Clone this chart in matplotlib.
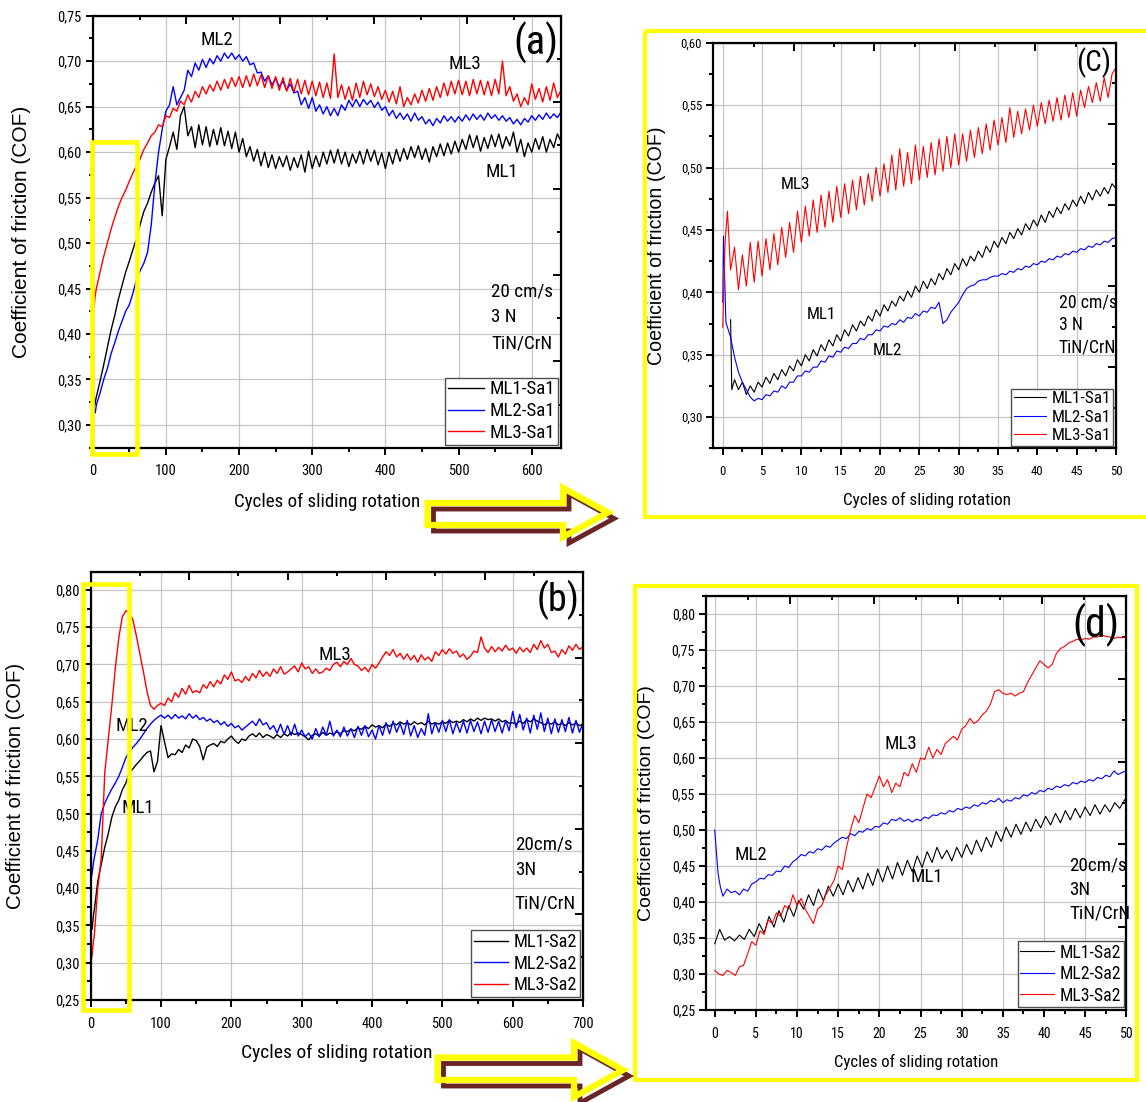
import os
import numpy as np
import matplotlib
matplotlib.use('Agg')
import matplotlib.pyplot as plt
from matplotlib.ticker import MultipleLocator, FuncFormatter, NullFormatter
from matplotlib import font_manager
from matplotlib.patches import Rectangle, Polygon

W, H = 1146, 1102

# ---------------- panel (a): Sa1, full run ----------------
a_x = np.r_[[0, 1, 2, 3, 4], np.arange(5, 641, 5)]
a_ml1 = [0.345, 0.33, 0.322, 0.322, 0.327,
         0.331, 0.348, 0.366, 0.385, 0.404, 0.42, 0.438, 0.453, 0.468, 0.48,
         0.493, 0.505, 0.521, 0.535, 0.544, 0.556, 0.566, 0.574, 0.53, 0.592,
         0.606, 0.622, 0.603, 0.64, 0.65, 0.618, 0.628, 0.605, 0.63, 0.608,
         0.628, 0.606, 0.625, 0.608, 0.627, 0.607, 0.623, 0.604, 0.622, 0.60,
         0.615, 0.595, 0.606, 0.59, 0.603, 0.585, 0.60, 0.583, 0.597, 0.582,
         0.595, 0.584, 0.596, 0.58, 0.594, 0.583, 0.597, 0.578, 0.601, 0.582,
         0.596, 0.584, 0.60, 0.587, 0.602, 0.588, 0.603, 0.587, 0.60, 0.584,
         0.598, 0.588, 0.601, 0.587, 0.603, 0.59, 0.602, 0.586, 0.599, 0.582,
         0.60, 0.587, 0.603, 0.59, 0.604, 0.592, 0.606, 0.594, 0.607, 0.592,
         0.604, 0.589, 0.606, 0.595, 0.609, 0.596, 0.61, 0.598, 0.612, 0.60,
         0.614, 0.603, 0.619, 0.605, 0.618, 0.601, 0.616, 0.604, 0.619, 0.606,
         0.62, 0.604, 0.617, 0.607, 0.622, 0.60, 0.614, 0.595, 0.61, 0.60,
         0.615, 0.603, 0.617, 0.60, 0.614, 0.605, 0.62, 0.612]
a_ml2 = [0.40, 0.34, 0.318, 0.313, 0.316,
         0.322, 0.335, 0.35, 0.362, 0.378, 0.39, 0.403, 0.414, 0.425, 0.432,
         0.445, 0.46, 0.47, 0.478, 0.49, 0.52, 0.565, 0.60, 0.625, 0.645,
         0.652, 0.672, 0.652, 0.66, 0.668, 0.69, 0.683, 0.698, 0.69, 0.702,
         0.693, 0.703, 0.697, 0.706, 0.70, 0.709, 0.703, 0.709, 0.702, 0.707,
         0.70, 0.705, 0.696, 0.698, 0.687, 0.688, 0.678, 0.684, 0.674, 0.681,
         0.672, 0.678, 0.668, 0.675, 0.665, 0.667, 0.652, 0.66, 0.648, 0.66,
         0.645, 0.652, 0.642, 0.65, 0.64, 0.648, 0.64, 0.652, 0.646, 0.657,
         0.65, 0.658, 0.65, 0.658, 0.652, 0.657, 0.649, 0.655, 0.646, 0.65,
         0.64, 0.646, 0.637, 0.643, 0.636, 0.642, 0.634, 0.643, 0.635, 0.639,
         0.631, 0.636, 0.629, 0.637, 0.632, 0.64, 0.634, 0.639, 0.633, 0.639,
         0.634, 0.641, 0.635, 0.642, 0.636, 0.641, 0.635, 0.643, 0.637, 0.641,
         0.635, 0.64, 0.634, 0.638, 0.631, 0.636, 0.63, 0.637, 0.633, 0.64,
         0.635, 0.641, 0.636, 0.643, 0.637, 0.642, 0.638, 0.644]
a_ml3 = [0.40, 0.455, 0.43, 0.44, 0.445,
         0.45, 0.468, 0.485, 0.50, 0.515, 0.528, 0.54, 0.55, 0.558, 0.568,
         0.577, 0.585, 0.593, 0.603, 0.61, 0.618, 0.622, 0.63, 0.628, 0.64,
         0.638, 0.648, 0.645, 0.656, 0.652, 0.663, 0.655, 0.667, 0.66, 0.672,
         0.664, 0.674, 0.667, 0.678, 0.668, 0.68, 0.67, 0.682, 0.672, 0.683,
         0.671, 0.684, 0.672, 0.686, 0.673, 0.685, 0.671, 0.684, 0.67, 0.683,
         0.668, 0.682, 0.667, 0.681, 0.666, 0.68, 0.664, 0.679, 0.663, 0.678,
         0.662, 0.677, 0.66, 0.676, 0.659, 0.708, 0.66, 0.674, 0.658, 0.672,
         0.657, 0.676, 0.66, 0.678, 0.663, 0.675, 0.661, 0.672, 0.658, 0.668,
         0.655, 0.667, 0.653, 0.672, 0.65, 0.66, 0.652, 0.664, 0.654, 0.668,
         0.656, 0.67, 0.657, 0.672, 0.66, 0.676, 0.662, 0.678, 0.664, 0.679,
         0.663, 0.678, 0.662, 0.68, 0.664, 0.679, 0.663, 0.678, 0.662, 0.68,
         0.664, 0.70, 0.662, 0.672, 0.656, 0.664, 0.65, 0.66, 0.652, 0.675,
         0.658, 0.67, 0.655, 0.672, 0.657, 0.676, 0.66, 0.668]

# ---------------- panel (b): Sa2, full run ----------------
b_x = np.r_[[0, 2, 4], np.arange(5, 701, 5)]
b_ml1 = [0.35, 0.345, 0.365,
         0.37, 0.409, 0.432, 0.455, 0.473, 0.495, 0.509, 0.518, 0.532, 0.541,
         0.555, 0.56, 0.566, 0.571, 0.577, 0.582, 0.584, 0.556, 0.57, 0.618,
         0.596, 0.575, 0.58, 0.579, 0.586, 0.582, 0.592, 0.588, 0.60, 0.598,
         0.59, 0.572, 0.589, 0.592, 0.594, 0.59, 0.597, 0.595, 0.60, 0.604,
         0.598, 0.594, 0.60, 0.598, 0.604, 0.607, 0.603, 0.608, 0.602, 0.606,
         0.604, 0.601, 0.606, 0.602, 0.607, 0.604, 0.609, 0.606, 0.608, 0.606,
         0.603, 0.599, 0.605, 0.607, 0.604, 0.609, 0.605, 0.608, 0.606, 0.61,
         0.607, 0.611, 0.61, 0.613, 0.611, 0.615, 0.613, 0.617, 0.614, 0.619,
         0.616, 0.618, 0.615, 0.62, 0.617, 0.621, 0.619, 0.623, 0.62, 0.622,
         0.619, 0.623, 0.62, 0.622, 0.619, 0.624, 0.62, 0.622, 0.62, 0.623,
         0.621, 0.625, 0.622, 0.624, 0.622, 0.626, 0.623, 0.627, 0.624, 0.628,
         0.625, 0.628, 0.626, 0.627, 0.624, 0.627, 0.623, 0.625, 0.621, 0.622,
         0.62, 0.624, 0.621, 0.626, 0.623, 0.627, 0.624, 0.622, 0.619, 0.622,
         0.62, 0.623, 0.619, 0.621, 0.618, 0.622, 0.619, 0.621, 0.618, 0.62]
b_ml2 = [0.41, 0.42, 0.435,
         0.44, 0.465, 0.50, 0.514, 0.524, 0.533, 0.541, 0.55, 0.562, 0.575,
         0.582, 0.589, 0.594, 0.60, 0.607, 0.614, 0.62, 0.625, 0.629, 0.632,
         0.628, 0.632, 0.627, 0.633, 0.628, 0.631, 0.627, 0.634, 0.628, 0.632,
         0.626, 0.629, 0.624, 0.627, 0.622, 0.625, 0.619, 0.623, 0.617, 0.621,
         0.615, 0.618, 0.612, 0.616, 0.62, 0.624, 0.618, 0.627, 0.619, 0.622,
         0.613, 0.618, 0.608, 0.62, 0.606, 0.618, 0.605, 0.62, 0.604, 0.612,
         0.603, 0.608, 0.60, 0.614, 0.603, 0.616, 0.605, 0.624, 0.604, 0.612,
         0.603, 0.616, 0.604, 0.614, 0.602, 0.617, 0.605, 0.618, 0.603, 0.612,
         0.60, 0.618, 0.605, 0.622, 0.607, 0.624, 0.609, 0.621, 0.606, 0.625,
         0.604, 0.618, 0.602, 0.614, 0.605, 0.634, 0.607, 0.622, 0.609, 0.625,
         0.61, 0.626, 0.607, 0.622, 0.609, 0.624, 0.608, 0.625, 0.61, 0.623,
         0.607, 0.624, 0.609, 0.626, 0.61, 0.624, 0.608, 0.625, 0.611, 0.637,
         0.615, 0.633, 0.612, 0.628, 0.608, 0.632, 0.613, 0.635, 0.61, 0.628,
         0.607, 0.627, 0.609, 0.626, 0.61, 0.629, 0.608, 0.625, 0.609, 0.622]
b_ml3 = [0.30, 0.31, 0.33,
         0.335, 0.40, 0.44, 0.555, 0.60, 0.645, 0.695, 0.736, 0.764, 0.772,
         0.77, 0.76, 0.738, 0.714, 0.69, 0.664, 0.645, 0.64, 0.645, 0.648,
         0.645, 0.655, 0.65, 0.662, 0.656, 0.668, 0.66, 0.672, 0.662, 0.665,
         0.662, 0.673, 0.668, 0.677, 0.67, 0.679, 0.674, 0.686, 0.68, 0.69,
         0.678, 0.68, 0.676, 0.684, 0.678, 0.688, 0.682, 0.692, 0.684, 0.69,
         0.684, 0.694, 0.688, 0.697, 0.687, 0.69, 0.694, 0.698, 0.69, 0.702,
         0.694, 0.697, 0.688, 0.694, 0.688, 0.69, 0.695, 0.692, 0.70, 0.703,
         0.697, 0.704, 0.70, 0.708, 0.70, 0.698, 0.692, 0.696, 0.69, 0.70,
         0.695, 0.702, 0.71, 0.717, 0.712, 0.72, 0.71, 0.715, 0.707, 0.714,
         0.706, 0.712, 0.703, 0.713, 0.706, 0.71, 0.704, 0.717, 0.712, 0.72,
         0.714, 0.721, 0.715, 0.718, 0.71, 0.714, 0.707, 0.711, 0.718, 0.716,
         0.737, 0.722, 0.716, 0.724, 0.717, 0.723, 0.718, 0.726, 0.719, 0.722,
         0.715, 0.723, 0.717, 0.722, 0.716, 0.727, 0.72, 0.732, 0.722, 0.727,
         0.716, 0.718, 0.71, 0.72, 0.714, 0.725, 0.719, 0.727, 0.72, 0.724]

# ---------------- panel (c): Sa1, first 50 cycles ----------------
c_x1 = np.r_[[1.0, 1.15], np.arange(1.5, 50.01, 0.5)]
c_ml1 = [0.378, 0.322,
         0.33, 0.322, 0.328, 0.318, 0.325, 0.32, 0.328, 0.324, 0.332, 0.327,
         0.335, 0.33, 0.338, 0.333, 0.341, 0.337, 0.346, 0.341, 0.35, 0.345,
         0.354, 0.349, 0.358, 0.353, 0.362, 0.357, 0.366, 0.361, 0.37, 0.365,
         0.374, 0.369, 0.377, 0.373, 0.381, 0.377, 0.386, 0.381, 0.39, 0.385,
         0.393, 0.389, 0.397, 0.393, 0.401, 0.396, 0.405, 0.4, 0.409, 0.403,
         0.411, 0.406, 0.415, 0.41, 0.419, 0.414, 0.423, 0.418, 0.427, 0.421,
         0.429, 0.425, 0.433, 0.428, 0.437, 0.432, 0.441, 0.436, 0.444, 0.439,
         0.448, 0.443, 0.451, 0.446, 0.455, 0.45, 0.458, 0.453, 0.462, 0.456,
         0.465, 0.46, 0.468, 0.463, 0.471, 0.466, 0.474, 0.469, 0.477, 0.471,
         0.48, 0.474, 0.482, 0.477, 0.484, 0.479, 0.487, 0.483]
c_x2 = np.r_[[0, 0.1, 0.4, 1.0], np.arange(1.5, 50.01, 0.5)]
c_ml2 = [0.392, 0.445, 0.376, 0.364,
         0.348, 0.336, 0.328, 0.322, 0.316, 0.313, 0.315, 0.314, 0.318, 0.317,
         0.321, 0.32, 0.325, 0.323, 0.328, 0.328, 0.333, 0.333, 0.337, 0.336,
         0.34, 0.34, 0.345, 0.344, 0.349, 0.348, 0.353, 0.352, 0.356, 0.355,
         0.359, 0.359, 0.363, 0.362, 0.366, 0.366, 0.37, 0.369, 0.373, 0.372,
         0.375, 0.374, 0.378, 0.376, 0.38, 0.379, 0.383, 0.381, 0.385, 0.384,
         0.388, 0.387, 0.392, 0.375, 0.378, 0.384, 0.388, 0.392, 0.398, 0.403,
         0.405, 0.406, 0.409, 0.41, 0.41, 0.412, 0.413, 0.413, 0.415, 0.414,
         0.417, 0.416, 0.419, 0.418, 0.421, 0.42, 0.423, 0.422, 0.425, 0.424,
         0.427, 0.426, 0.429, 0.428, 0.431, 0.43, 0.433, 0.432, 0.435, 0.434,
         0.437, 0.436, 0.439, 0.438, 0.441, 0.44, 0.443, 0.444]
c_x3 = np.r_[[0, 0.3, 0.6, 1.0], np.arange(1.5, 50.01, 0.5)]
c_ml3 = [0.372, 0.44, 0.465, 0.418,
         0.436, 0.402, 0.43, 0.405, 0.44, 0.408, 0.441, 0.413, 0.443, 0.418,
         0.447, 0.422, 0.452, 0.428, 0.456, 0.432, 0.465, 0.44, 0.469, 0.445,
         0.474, 0.448, 0.478, 0.452, 0.481, 0.456, 0.485, 0.46, 0.487, 0.463,
         0.49, 0.466, 0.493, 0.47, 0.495, 0.473, 0.50, 0.477, 0.503, 0.48,
         0.51, 0.482, 0.515, 0.485, 0.512, 0.487, 0.518, 0.49, 0.517, 0.492,
         0.52, 0.494, 0.523, 0.497, 0.525, 0.50, 0.527, 0.502, 0.527, 0.505,
         0.53, 0.508, 0.532, 0.511, 0.535, 0.514, 0.538, 0.518, 0.54, 0.52,
         0.548, 0.524, 0.545, 0.527, 0.547, 0.53, 0.55, 0.533, 0.552, 0.535,
         0.554, 0.537, 0.556, 0.538, 0.558, 0.54, 0.56, 0.541, 0.562, 0.548,
         0.565, 0.552, 0.568, 0.553, 0.572, 0.556, 0.575, 0.58]

# ---------------- panel (d): Sa2, first 50 cycles ----------------
d_x1 = np.linspace(0, 49.8, 84)
d_ml1 = [0.342, 0.362, 0.347, 0.352, 0.346, 0.354, 0.348, 0.362, 0.352, 0.37,
         0.357, 0.38, 0.365, 0.388, 0.372, 0.395, 0.38, 0.402, 0.39, 0.41,
         0.395, 0.418, 0.402, 0.422, 0.408, 0.425, 0.41, 0.43, 0.414, 0.434,
         0.418, 0.44, 0.423, 0.446, 0.428, 0.45, 0.432, 0.455, 0.437, 0.458,
         0.442, 0.464, 0.448, 0.47, 0.455, 0.476, 0.46, 0.472, 0.457, 0.476,
         0.462, 0.48, 0.466, 0.486, 0.47, 0.49, 0.476, 0.498, 0.484, 0.504,
         0.49, 0.508, 0.494, 0.511, 0.498, 0.515, 0.503, 0.519, 0.507, 0.523,
         0.51, 0.527, 0.514, 0.53, 0.517, 0.532, 0.52, 0.535, 0.522, 0.535,
         0.525, 0.538, 0.53, 0.542]
d_x2 = np.r_[[0, 0.2, 0.4, 0.7, 1.0], np.arange(1.5, 50.01, 0.5)]
d_ml2 = [0.50, 0.47, 0.44, 0.42, 0.408,
         0.418, 0.413, 0.415, 0.41, 0.418, 0.415, 0.425, 0.428, 0.433, 0.432,
         0.438, 0.437, 0.443, 0.442, 0.45, 0.448, 0.456, 0.46, 0.466, 0.464,
         0.47, 0.468, 0.474, 0.472, 0.478, 0.476, 0.482, 0.486, 0.49, 0.488,
         0.495, 0.492, 0.498, 0.497, 0.502, 0.50, 0.505, 0.504, 0.51, 0.508,
         0.515, 0.513, 0.517, 0.512, 0.515, 0.511, 0.515, 0.513, 0.518, 0.516,
         0.521, 0.52, 0.524, 0.522, 0.527, 0.525, 0.53, 0.528, 0.532, 0.53,
         0.535, 0.533, 0.538, 0.536, 0.541, 0.539, 0.544, 0.538, 0.542, 0.54,
         0.545, 0.543, 0.549, 0.547, 0.552, 0.55, 0.555, 0.553, 0.558, 0.556,
         0.561, 0.559, 0.563, 0.561, 0.566, 0.564, 0.568, 0.566, 0.57, 0.568,
         0.573, 0.571, 0.576, 0.574, 0.582, 0.577, 0.58, 0.582]
d_x3 = np.arange(0, 50.01, 0.5)
d_ml3 = [0.305, 0.30, 0.298, 0.305, 0.302, 0.298, 0.31, 0.312, 0.328, 0.345,
         0.34, 0.36, 0.355, 0.375, 0.37, 0.385, 0.38, 0.395, 0.39, 0.41,
         0.395, 0.405, 0.39, 0.38, 0.37, 0.39, 0.395, 0.41, 0.42, 0.43,
         0.45, 0.445, 0.475, 0.50, 0.52, 0.51, 0.53, 0.55, 0.545, 0.56,
         0.575, 0.56, 0.57, 0.552, 0.565, 0.56, 0.58, 0.575, 0.592, 0.58,
         0.60, 0.598, 0.615, 0.60, 0.612, 0.605, 0.62, 0.625, 0.63, 0.625,
         0.64, 0.645, 0.655, 0.648, 0.652, 0.66, 0.665, 0.675, 0.692, 0.695,
         0.69, 0.688, 0.69, 0.686, 0.69, 0.692, 0.705, 0.715, 0.725, 0.735,
         0.73, 0.725, 0.73, 0.745, 0.752, 0.755, 0.76, 0.762, 0.765, 0.764,
         0.766, 0.765, 0.768, 0.768, 0.771, 0.769, 0.768, 0.766, 0.768, 0.767,
         0.769]

# ---- pick a narrow sans face if one is installed (reference text is condensed)
BAD = ('Bold', 'Italic', 'Light', 'Medium', 'Black', 'Thin', 'Semi', 'Extra', 'Oblique')
PREF = [('LiberationSansNarrow-Regular', 0.82), ('ArialNarrow', 0.82), ('arialn', 0.82),
        ('RobotoCondensed-Regular', 0.9), ('NotoSans-Condensed', 0.85),
        ('OpenSans-CondensedRegular', 0.84), ('OpenSans_Condensed-Regular', 0.84),
        ('DejaVuSansCondensed', 0.98)]
files = [f.fname for f in font_manager.fontManager.ttflist]
pick, widthf = None, 1.0
for key, wf in PREF:
    for p in files:
        b = os.path.basename(p)
        if b.startswith(key) and not any(w in b[len(key):] for w in BAD):
            pick, widthf = p, wf
            break
    if pick:
        break
if pick:
    font_manager.fontManager.ttflist.append(font_manager.FontEntry(
        fname=pick, name='CondPick', style='normal', variant='normal',
        weight=400, stretch='normal', size='scalable'))
    plt.rcParams['font.family'] = ['CondPick', 'DejaVu Sans']
else:
    plt.rcParams['font.family'] = ['Liberation Sans', 'DejaVu Sans']
REG = 'Liberation Sans'
SC = 0.82 / widthf          # keeps the horizontal text widths of the reference


def fs(s):
    return s * SC


fig = plt.figure(figsize=(W / 100, H / 100), dpi=100)


def px_axes(left, top, right, bottom):
    return fig.add_axes([left / W, 1 - bottom / H, (right - left) / W, (bottom - top) / H])


comma = FuncFormatter(lambda v, p: f'{v:.2f}'.replace('.', ','))


def setup(ax, xlim, ylim, xmaj, tfs):
    ax.set_xlim(*xlim)
    ax.set_ylim(*ylim)
    ax.xaxis.set_major_locator(MultipleLocator(xmaj))
    ax.xaxis.set_minor_locator(MultipleLocator(xmaj / 2))
    ax.yaxis.set_major_locator(MultipleLocator(0.05))
    ax.yaxis.set_minor_locator(MultipleLocator(0.025))
    ax.yaxis.set_major_formatter(comma)
    ax.grid(True, which='major', color='#c4c4c4', lw=0.9)
    ax.set_axisbelow(True)
    ax.tick_params(which='both', direction='out', width=1.4, labelsize=fs(tfs))
    ax.tick_params(which='major', length=5)
    ax.tick_params(which='minor', length=3)
    ax.tick_params(axis='x', pad=7)
    ax.tick_params(axis='y', pad=3)
    for sp in ax.spines.values():
        sp.set_linewidth(1.6)
    # Origin-style opposite axes: inward ticks at tenths of the range
    xr = xlim[1] - xlim[0]
    yr = ylim[1] - ylim[0]
    top = ax.secondary_xaxis('top')
    top.set_xticks([xlim[0] + k * xr / 10 for k in (2, 4, 6, 8)])
    top.set_xticks([xlim[0] + k * xr / 10 for k in (1, 3, 5, 7, 9)], minor=True)
    top.xaxis.set_major_formatter(NullFormatter())
    top.xaxis.set_minor_formatter(NullFormatter())
    top.tick_params(which='both', direction='in', width=1.4)
    top.tick_params(which='major', length=6)
    top.tick_params(which='minor', length=3)
    right = ax.secondary_yaxis('right')
    right.set_yticks([ylim[0] + k * yr / 10 for k in (2, 4, 6, 8)])
    right.set_yticks([ylim[0] + k * yr / 10 for k in (1, 3, 5, 7, 9)], minor=True)
    right.yaxis.set_major_formatter(NullFormatter())
    right.yaxis.set_minor_formatter(NullFormatter())
    right.tick_params(which='both', direction='in', width=1.4)
    right.tick_params(which='major', length=6)
    right.tick_params(which='minor', length=3)


def labels(ax, ylab_x, xlab_x, xlab_y, yfs, xfs):
    ax.text(ylab_x, 0.5, 'Coefficient of friction (COF)', transform=ax.transAxes,
            rotation=90, ha='center', va='center', fontsize=yfs, family=REG)
    ax.text(xlab_x, xlab_y, 'Cycles of sliding rotation', transform=ax.transAxes,
            ha='center', va='center', fontsize=fs(xfs))


def notes(ax, items, size):
    for x, y, s in items:
        ax.text(x, y, s, ha='center', va='center', fontsize=fs(size))


def conditions(ax, x, ys, texts, size):
    for y, s in zip(ys, texts):
        ax.text(x, y, s, ha='left', va='center', fontsize=fs(size))


def legend(ax, size):
    lg = ax.legend(loc='lower right', fontsize=fs(size), frameon=True, fancybox=False,
                   edgecolor='#505050', framealpha=1, handlelength=1.9,
                   handletextpad=0.3, borderpad=0.15, labelspacing=0.2,
                   borderaxespad=0.15)
    lg.get_frame().set_linewidth(1.0)


YEL = '#ffff00'

# ---- (a)
ax = px_axes(92.7, 15.7, 561, 447.7)
setup(ax, (0, 640), (0.275, 0.75), 100, 11.5)
ax.plot(a_x, a_ml1, color='black', lw=1.0, label='ML1-Sa1')
ax.plot(a_x, a_ml2, color='#0000ff', lw=1.0, label='ML2-Sa1')
ax.plot(a_x, a_ml3, color='#ff0000', lw=1.0, label='ML3-Sa1')
labels(ax, -0.151, 0.5, -0.1257, 15, 15)
notes(ax, [(170, 0.723, 'ML2'), (508, 0.697, 'ML3'), (559, 0.578, 'ML1')], 15)
ax.text(606, 0.72, '(a)', ha='center', va='center', fontsize=fs(32))
conditions(ax, 545, [0.447, 0.419, 0.39], ['20 cm/s', '3 N', 'TiN/CrN'], 15)
legend(ax, 15)
ax.add_patch(Rectangle((-1.4, 0.268), 62.2, 0.343, fill=False, ec=YEL, lw=3.3,
                       clip_on=False, zorder=6))

# ---- (b)
ax = px_axes(90.7, 572, 583, 1000)
setup(ax, (0, 700), (0.25, 0.824), 100, 11.5)
ax.plot(b_x, b_ml1, color='black', lw=1.0, label='ML1-Sa2')
ax.plot(b_x, b_ml2, color='#0000ff', lw=1.0, label='ML2-Sa2')
ax.plot(b_x, b_ml3, color='#ff0000', lw=1.0, label='ML3-Sa2')
labels(ax, -0.152, 0.5, -0.124, 14.7, 15.4)
notes(ax, [(347, 0.713, 'ML3'), (59, 0.618, 'ML2'), (67, 0.507, 'ML1')], 15)
ax.text(664, 0.786, '(b)', ha='center', va='center', fontsize=fs(30))
conditions(ax, 603, [0.459, 0.425, 0.38], ['20cm/s', '3N', 'TiN/CrN'], 15)
legend(ax, 14.5)
ax.add_patch(Rectangle((-11.2, 0.2366), 65.9, 0.571, fill=False, ec=YEL, lw=3.3,
                       clip_on=False, zorder=6))

# ---- (c)
ax = px_axes(713.3, 42.7, 1116, 448.3)
setup(ax, (-1.2, 50), (0.275, 0.60), 5, 10)
ax.plot(c_x1, c_ml1, color='black', lw=0.8, label='ML1-Sa1')
ax.plot(c_x2, c_ml2, color='#0000ff', lw=0.8, label='ML2-Sa1')
ax.plot(c_x3, c_ml3, color='#ff0000', lw=0.8, label='ML3-Sa1')
labels(ax, -0.14, 0.53, -0.1275, 14.1, 13.5)
notes(ax, [(9.3, 0.486, 'ML3'), (12.6, 0.382, 'ML1'), (21, 0.353, 'ML2')], 13.5)
ax.text(47.1, 0.584, '(C)', ha='center', va='center', fontsize=fs(23))
conditions(ax, 42.7, [0.392, 0.374, 0.356], ['20 cm/s', '3 N', 'TiN/CrN'], 14)
legend(ax, 13.5)

# ---- (d)
ax = px_axes(706, 596, 1126.3, 1010)
setup(ax, (-1.06, 50), (0.25, 0.825), 5, 11)
ax.plot(d_x1, d_ml1, color='black', lw=0.8, label='ML1-Sa2')
ax.plot(d_x2, d_ml2, color='#0000ff', lw=0.8, label='ML2-Sa2')
ax.plot(d_x3, d_ml3, color='#ff0000', lw=0.8, label='ML3-Sa2')
labels(ax, -0.141, 0.5, -0.1256, 14.0, 13.2)
notes(ax, [(22.6, 0.62, 'ML3'), (4.4, 0.465, 'ML2'), (25.8, 0.435, 'ML1')], 15)
ax.text(46.3, 0.785, '(d)', ha='center', va='center', fontsize=fs(33))
conditions(ax, 43.1, [0.45, 0.416, 0.384], ['20cm/s', '3N', 'TiN/CrN'], 15)
legend(ax, 14)


# ---- yellow frames and arrows (figure pixel coordinates)
def fpt(x, y):
    return (x / W, 1 - y / H)


def frame(x0, y0, x1, y1):
    p = Polygon([fpt(x0, y0), fpt(x1, y0), fpt(x1, y1), fpt(x0, y1)], closed=True,
                fill=False, ec=YEL, lw=3.0, transform=fig.transFigure, zorder=10)
    fig.add_artist(p)


frame(644.7, 31.3, 1150, 517)
frame(634.7, 586, 1136.7, 1079.5)


def block_arrow(x0, xh, xt, yt, yb, yht, yhb):
    ym = (yht + yhb) / 2
    pts = [(x0, yt), (xh, yt), (xh, yht), (xt, ym), (xh, yhb), (xh, yb), (x0, yb)]
    shadow = Polygon([fpt(x + 6, y + 6) for x, y in pts], closed=True, fill=False,
                     ec='#6a2424', lw=3.5, joinstyle='miter', transform=fig.transFigure,
                     zorder=10)
    face = Polygon([fpt(x, y) for x, y in pts], closed=True, fill=False, ec=YEL,
                   lw=4.5, joinstyle='miter', transform=fig.transFigure, zorder=11)
    fig.add_artist(shadow)
    fig.add_artist(face)


block_arrow(427.5, 563, 608, 503, 525, 488, 537)
block_arrow(437.5, 574, 623, 1057.5, 1080, 1043, 1097)

fig.savefig('out.png', dpi=100)
